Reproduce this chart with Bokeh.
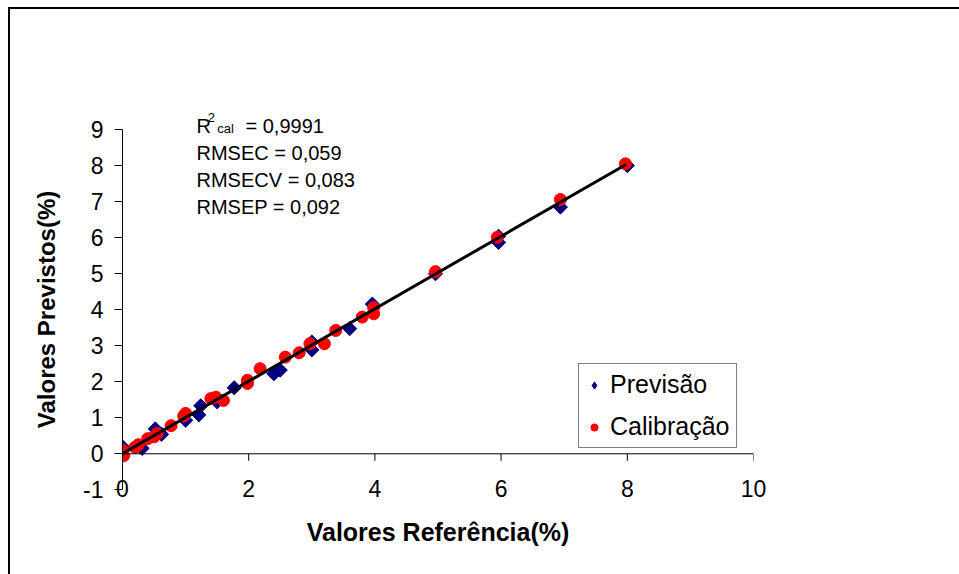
import numpy as np
from bokeh.plotting import figure
from bokeh.models import FixedTicker, Label, Span, Legend, LegendItem
from bokeh.embed import file_html
from bokeh.resources import INLINE

# ---- data ----
prev_x = [0.0, 0.31, 0.52, 0.62, 1.0, 1.21, 1.24, 1.5, 1.77, 2.4, 2.5, 3.0, 3.0, 3.6, 3.96, 4.96, 5.96, 5.96, 6.94, 8.0]
prev_y = [0.19, 0.15, 0.69, 0.54, 0.93, 1.08, 1.33, 1.44, 1.83, 2.22, 2.32, 3.1, 2.88, 3.47, 4.15, 4.99, 6.03, 5.86, 6.84, 7.99]

cal_x = [0.0, 0.0, 0.02, 0.2, 0.25, 0.4, 0.5, 0.55, 0.77, 0.97, 1.0, 1.4, 1.48, 1.6, 1.98, 1.98,
         2.18, 2.58, 2.8, 2.97, 3.2, 3.38, 3.8, 3.98, 3.98, 4.96, 5.94, 6.94, 7.97]
cal_y = [0.0, 0.1, -0.05, 0.18, 0.25, 0.42, 0.47, 0.56, 0.78, 1.05, 1.12, 1.53, 1.57, 1.48, 2.04, 1.95,
         2.36, 2.68, 2.8, 3.05, 3.05, 3.42, 3.79, 4.05, 3.88, 5.05, 6.0, 7.05, 8.04]

fit_x = [0.0, 7.98]
fit_y = [0.0, 8.02]

x_ticks = [0, 2, 4, 6, 8, 10]
y_ticks = [-1, 0, 1, 2, 3, 4, 5, 6, 7, 8, 9]

stats = ["RMSEC = 0,059", "RMSECV = 0,083", "RMSEP = 0,092"]
r2_text = "= 0,9991"

FONT = "Liberation Sans"

p = figure(width=959, height=574, output_backend="svg", toolbar_location=None,
           x_range=(0, 10), y_range=(-1.6, 9.6),
           min_border_left=122, min_border_right=206, min_border_top=107, min_border_bottom=63)
p.styles = {"background": "linear-gradient(#000,#000) 8px 7px / 2px 100% no-repeat, "
                          "linear-gradient(#000,#000) 8px 7px / 100% 2px no-repeat, #fff"}
p.border_fill_color = None
p.outline_line_color = None
p.background_fill_color = "white"
p.xgrid.grid_line_color = None
p.ygrid.grid_line_color = None

# y axis (line only from -1 to 9)
ya = p.yaxis[0]
ya.bounds = (-1, 9)
ya.ticker = FixedTicker(ticks=y_ticks)
ya.major_label_overrides = {-1: "-1"}
ya.axis_line_color = "black"
ya.major_tick_line_color = "black"
ya.major_tick_in = 0
ya.major_tick_out = 8
ya.minor_tick_line_color = None
ya.major_label_standoff = 11
ya.major_label_text_font = FONT
ya.major_label_text_font_size = "23px"
ya.major_label_text_color = "black"
ya.axis_label = "Valores Previstos(%)"
ya.axis_label_text_font = FONT
ya.axis_label_text_font_size = "24px"
ya.axis_label_text_font_style = "bold"
ya.axis_label_text_color = "black"
ya.axis_label_standoff = 20

# x axis: labels at the level of y = -1, line and ticks at y = 0
xa = p.xaxis[0]
xa.ticker = FixedTicker(ticks=x_ticks)
xa.axis_line_color = None
xa.major_tick_line_color = None
xa.minor_tick_line_color = None
xa.major_tick_in = 0
xa.major_tick_out = 0
xa.major_label_standoff = -32
xa.major_label_text_font = FONT
xa.major_label_text_font_size = "23px"
xa.major_label_text_color = "black"
xa.axis_label = "Valores Referência(%)"
xa.axis_label_text_font = FONT
xa.axis_label_text_font_size = "25px"
xa.axis_label_text_font_style = "bold"
xa.axis_label_text_color = "black"
xa.axis_label_standoff = 18

p.add_layout(Span(location=0, dimension="width", line_color="black", line_width=1))
tick_len = 7 / 36.07
p.segment(x0=x_ticks, y0=[0] * len(x_ticks), x1=x_ticks, y1=[-tick_len] * len(x_ticks),
          line_color="black", line_width=1)

# series
r_prev = p.scatter(prev_x, prev_y, marker="square", angle=np.pi / 4, size=10,
                   fill_color="#000080", line_color="#000080")
r_cal = p.scatter(cal_x, cal_y, marker="circle", size=12,
                  fill_color="#FF0000", line_color="#FF0000")
p.line(fit_x, fit_y, line_color="black", line_width=3)
# legend swatch for the diamonds (legend ignores marker rotation)
r_prev_key = p.scatter(prev_x, prev_y, marker="diamond", size=15,
                       fill_color="#000080", line_color="#000080", visible=False)

# statistics text
def lab(x, y, t, size):
    p.add_layout(Label(x=x, y=y, text=t, text_font=FONT, text_font_size=size,
                       text_color="black", text_baseline="alphabetic", text_align="left"))

lab(1.173, 9.10, "R", "20px")
lab(1.352, 9.33, "2", "13px")
lab(1.50, 9.01, "cal", "13px")
lab(1.949, 9.10, r2_text, "20px")
for t, yy in zip(stats, [8.345, 7.584, 6.85]):
    lab(1.173, yy, t, "20px")

# legend
lg = Legend(items=[LegendItem(label="Previsão", renderers=[r_prev_key]),
                   LegendItem(label="Calibração", renderers=[r_cal])])
lg.location = (456, 63)
lg.border_line_color = "black"
lg.border_line_width = 1
lg.background_fill_color = "white"
lg.background_fill_alpha = 1
lg.label_text_font = FONT
lg.label_text_font_size = "25px"
lg.label_text_color = "black"
lg.padding = 6
lg.margin = 0
lg.glyph_width = 18
lg.glyph_height = 28
lg.label_height = 28
lg.label_standoff = 7
lg.spacing = 13
p.add_layout(lg, "center")

open("out.html", "w").write(file_html(p, INLINE))
